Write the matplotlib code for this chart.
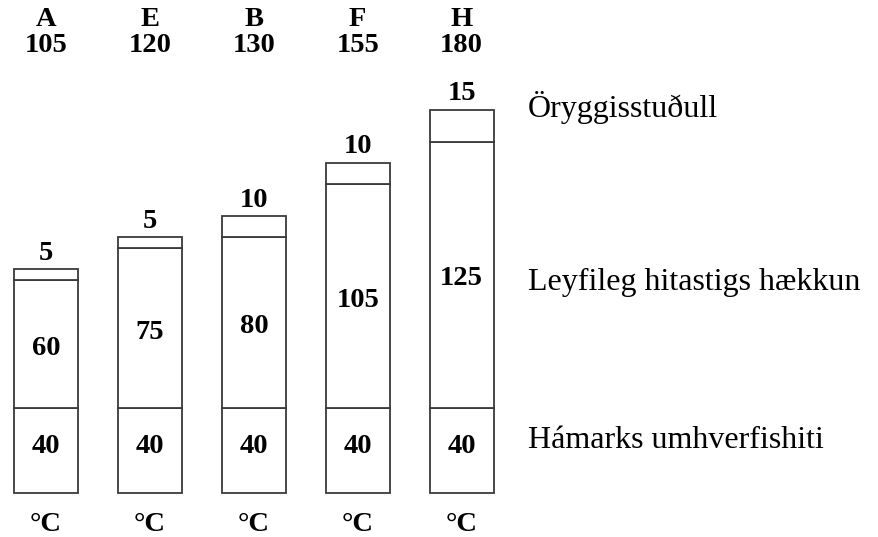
import matplotlib.pyplot as plt
import numpy as np

plt.rcParams['font.family'] = ['Liberation Serif', 'DejaVu Serif']

# insulation classes and their temperature budget (deg C)
classes = ["A", "E", "B", "F", "H"]
totals = [105, 120, 130, 155, 180]
ambient = [40, 40, 40, 40, 40]
rise = [60, 75, 80, 105, 125]
margin = [5, 5, 10, 10, 15]
row_names = ["Öryggisstuðull", "Leyfileg hitastigs hækkun", "Hámarks umhverfishiti"]

fig = plt.figure(figsize=(8.79, 5.37), dpi=100)
ax = fig.add_axes([0, 0, 1, 1])
ax.set_xlim(-0.443, 8.017)
ax.set_ylim(-20.7, 231.5)
ax.axis('off')

x = np.arange(len(classes))
w = 0.616
edge = '#3a3a3a'
bold = dict(fontsize=20.5, fontweight='bold', ha='center', va='center')

ax.bar(x, ambient, width=w, color='white', edgecolor=edge, linewidth=1.3)
ax.bar(x, rise, width=w, bottom=ambient, color='white', edgecolor=edge, linewidth=1.3)
ax.bar(x, margin, width=w, bottom=np.add(ambient, rise), color='white',
       edgecolor=edge, linewidth=1.3)

for i in range(len(classes)):
    ax.text(x[i], 222.5, classes[i], **bold)
    ax.text(x[i], 210, str(totals[i]), **bold)
    ax.text(x[i], ambient[i] / 2 + 2, str(ambient[i]), **bold)
    ax.text(x[i], ambient[i] + rise[i] / 2 - 2, str(rise[i]), **bold)
    ax.text(x[i], totals[i] + 7.5, str(margin[i]), **bold)
    ax.text(x[i], -15, "°C", **bold)

ax.text(4.64, 180.8, row_names[0], fontsize=23, ha='left', va='center')
ax.text(4.64, 99, row_names[1], fontsize=23, ha='left', va='center')
ax.text(4.64, 24.4, row_names[2], fontsize=23, ha='left', va='center')

fig.savefig("out.png", dpi=100)
